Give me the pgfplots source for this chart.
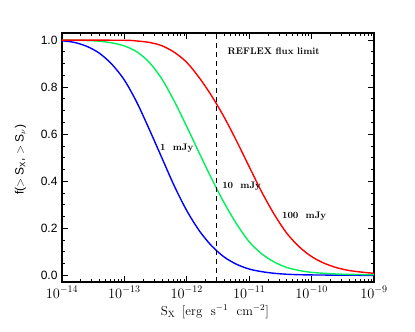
\documentclass[border=0pt]{standalone}
\usepackage{fontspec}
\setsansfont{Liberation Sans}
\usepackage{pgfplots}
\usepackage{pgfplotstable}
\pgfplotsset{compat=1.18}
\definecolor{cblue}{RGB}{0,0,255}
\definecolor{cgreen}{RGB}{0,240,90}
\definecolor{cred}{RGB}{255,0,0}

\pgfplotstableread{
lx f
-14.0 0.997
-13.8 0.990
-13.6 0.973
-13.4 0.944
-13.2 0.897
-13.0 0.830
-12.8 0.735
-12.6 0.620
-12.4 0.500
-12.2 0.380
-12.0 0.275
-11.8 0.190
-11.6 0.125
-11.4 0.078
-11.2 0.047
-11.0 0.027
-10.8 0.016
-10.6 0.009
-10.4 0.005
-10.2 0.003
-10.0 0.002
-9.5 0.001
-9.0 0.000
}\blue

\pgfplotstableread{
lx f
-14.0 1.000
-13.6 0.998
-13.4 0.995
-13.2 0.988
-13.0 0.975
-12.8 0.950
-12.6 0.905
-12.4 0.835
-12.2 0.740
-12.0 0.632
-11.8 0.520
-11.6 0.410
-11.4 0.308
-11.2 0.218
-11.0 0.143
-10.8 0.092
-10.6 0.057
-10.4 0.034
-10.2 0.021
-10.0 0.013
-9.8 0.009
-9.5 0.005
-9.0 0.003
}\green

\pgfplotstableread{
lx f
-14.0 1.000
-13.0 0.999
-12.8 0.996
-12.6 0.990
-12.4 0.976
-12.2 0.948
-12.0 0.905
-11.8 0.840
-11.6 0.762
-11.4 0.672
-11.2 0.570
-11.0 0.462
-10.8 0.355
-10.6 0.260
-10.4 0.180
-10.2 0.122
-10.0 0.080
-9.8 0.052
-9.6 0.033
-9.4 0.021
-9.2 0.014
-9.0 0.009
}\red

\begin{document}
\begin{tikzpicture}
\useasboundingbox (-62pt,-50pt) rectangle (353pt,282pt);
\begin{axis}[
  at={(0pt,0pt)}, anchor=south west,
  scale only axis, width=312pt, height=249pt,
  xmode=log, xmin=1e-14, xmax=1e-9,
  ymin=-0.028, ymax=1.03,
  ytick={0,0.2,0.4,0.6,0.8,1.0},
  yticklabels={0.0,0.2,0.4,0.6,0.8,1.0},
  minor y tick num=3,
  tick align=inside,
  major tick length=6pt, minor tick length=3pt,
  axis line style={line width=1.2pt},
  every tick/.style={black, line width=0.8pt},
  yticklabel style={font=\sffamily\fontsize{12}{14}\selectfont, xshift=-1pt},
  xticklabel style={font=\fontsize{14}{16}\selectfont, yshift=-1pt},
  xlabel={S$_{\mathrm{X}}$\, [erg\ \ s$^{-1}$\ \ cm$^{-2}$]},
  xlabel style={font=\fontsize{13}{15}\selectfont, at={(axis description cs:0.49,-0.12)}, anchor=center},
  ylabel={f($>$ S\textsubscript{X}, $>$ S$_\nu$)},
  ylabel style={font=\sffamily\fontsize{12}{14}\selectfont, at={(axis description cs:-0.133,0.49)}, anchor=center},
  clip=true,
]
\addplot[cblue, line width=1.4pt, smooth] table[x expr={10^(\thisrow{lx})}, y=f] {\blue};
\addplot[cgreen, line width=1.4pt, smooth] table[x expr={10^(\thisrow{lx})}, y=f] {\green};
\addplot[cred, line width=1.4pt, smooth] table[x expr={10^(\thisrow{lx})}, y=f] {\red};
\addplot[black, line width=0.8pt, dash pattern=on 5pt off 4pt] coordinates {(3e-12,-0.028) (3e-12,1.03)};
\node[font=\bfseries\fontsize{9.5}{11}\selectfont, anchor=west] at (axis cs:3.98e-12,0.953) {REFLEX\ flux\ limit};
\node[font=\bfseries\fontsize{9.5}{11}\selectfont] at (axis cs:6.9e-13,0.54) {1\ \ mJy};
\node[font=\bfseries\fontsize{9.5}{11}\selectfont, anchor=west] at (axis cs:3.25e-12,0.38) {10\ \ mJy};
\node[font=\bfseries\fontsize{9.5}{11}\selectfont, anchor=west] at (axis cs:2.95e-11,0.252) {100\ \ mJy};
\end{axis}
\end{tikzpicture}
\end{document}
